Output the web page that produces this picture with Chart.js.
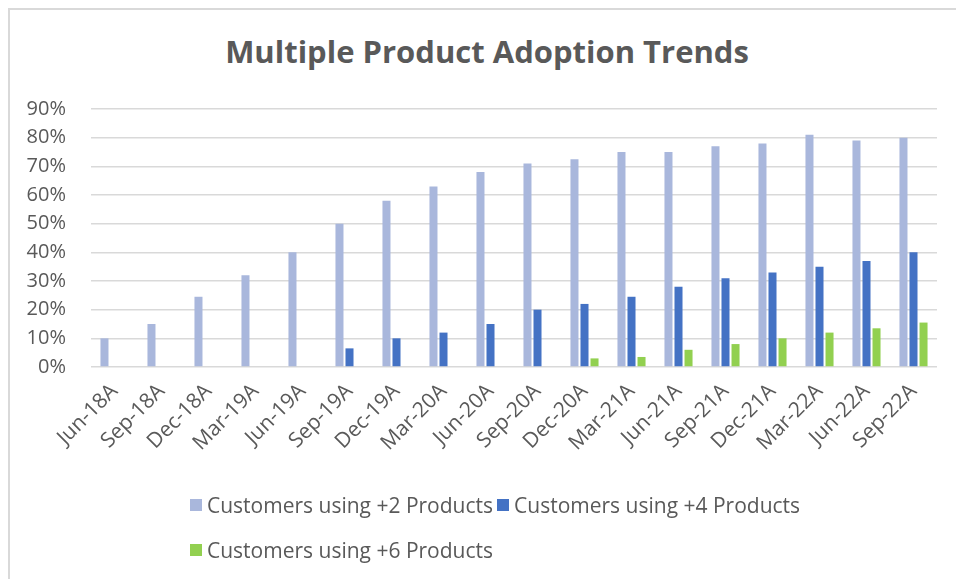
<!DOCTYPE html>
<html>
<head>
<meta charset="utf-8">
<script src="https://cdn.jsdelivr.net/npm/chart.js@4.4.1/dist/chart.umd.min.js"></script>
<style>
    html, body { margin: 0; padding: 0; background: #fff; overflow: hidden; }
    body { width: 956px; height: 579px; position: relative; font-family: "Open Sans", sans-serif; }
    #frame {
        position: absolute; left: 8px; top: 8px;
        width: 1200px; height: 800px;
        border: 2px solid #d9d9d9;
    }
    #chartTitle {
        position: absolute; left: 0; top: 30px; width: 974px;
        text-align: center; font-size: 31px; font-weight: 700;
        color: #595959; white-space: nowrap;
    }
    canvas { position: absolute; left: 0; top: 0; }
    #legend {
        position: absolute; left: 190px; top: 482px;
        font-size: 21px; color: #595959;
    }
    .legend-row { display: flex; height: 45px; align-items: center; }
    .legend-item { display: flex; align-items: center; margin-right: 4px; white-space: nowrap; }
    .legend-box { width: 12px; height: 12px; margin-right: 5px; }
</style>
</head>
<body>
<div id="frame"></div>
<div id="chartTitle">Multiple Product Adoption Trends</div>
<canvas id="adoptionChart" width="956" height="579"></canvas>
<div id="legend"></div>

<script>
const quarters = ["Jun-18A", "Sep-18A", "Dec-18A", "Mar-19A", "Jun-19A", "Sep-19A",
    "Dec-19A", "Mar-20A", "Jun-20A", "Sep-20A", "Dec-20A", "Mar-21A",
    "Jun-21A", "Sep-21A", "Dec-21A", "Mar-22A", "Jun-22A", "Sep-22A"];

// share of customers, in percent
const plus2 = [10, 15, 24.5, 32, 40, 50, 58, 63, 68, 71, 72.5, 75, 75, 77, 78, 81, 79, 80];
const plus4 = [null, null, null, null, null, 6.5, 10, 12, 15, 20, 22, 24.5, 28, 31, 33, 35, 37, 40];
const plus6 = [null, null, null, null, null, null, null, null, null, null, 3, 3.5, 6, 8, 10, 12, 13.5, 15.5];

const seriesNames = ["Customers using +2 Products", "Customers using +4 Products", "Customers using +6 Products"];
const seriesColors = ["#a9b7dc", "#4472c4", "#92d050"];

const yTicks = [0, 10, 20, 30, 40, 50, 60, 70, 80, 90];

const textColor = "#595959";
const gridColor = "#d9d9d9";

const datasets = [plus2, plus4, plus6].map((values, i) => ({
    label: seriesNames[i],
    data: values,
    backgroundColor: seriesColors[i],
    barPercentage: 0.8,
    categoryPercentage: 0.64
}));

new Chart(document.getElementById("adoptionChart"), {
    type: "bar",
    data: { labels: quarters, datasets },
    options: {
        responsive: false,
        animation: false,
        layout: { padding: { top: 109, left: 10, right: 19, bottom: 102 } },
        plugins: {
            legend: { display: false },
            title: { display: false },
            tooltip: { enabled: false }
        },
        scales: {
            x: {
                grid: { display: false },
                border: { display: false },
                ticks: {
                    color: textColor,
                    font: { family: "Open Sans", size: 21 },
                    minRotation: 45,
                    maxRotation: 45,
                    autoSkip: false,
                    padding: 4
                },
                afterFit: (scale) => { scale.height = 110; }
            },
            y: {
                min: 0,
                max: 90,
                afterBuildTicks: (scale) => { scale.ticks = yTicks.map(v => ({ value: v })); },
                grid: { color: gridColor, lineWidth: 1.5, drawTicks: false },
                border: { display: false },
                ticks: {
                    color: textColor,
                    font: { family: "Open Sans", size: 20 },
                    padding: 25,
                    callback: (v) => v + "%"
                },
                afterFit: (scale) => { scale.width = 81; }
            }
        }
    }
});

// legend below the plot: two entries on the first row, one on the second
let legend = document.getElementById("legend");
[[0, 1], [2]].forEach(row => {
    let rowDiv = document.createElement("div");
    rowDiv.className = "legend-row";
    row.forEach(i => {
        let item = document.createElement("div");
        item.className = "legend-item";
        let box = document.createElement("span");
        box.className = "legend-box";
        box.style.background = seriesColors[i];
        let label = document.createElement("span");
        label.textContent = seriesNames[i];
        item.appendChild(box);
        item.appendChild(label);
        rowDiv.appendChild(item);
    });
    legend.appendChild(rowDiv);
});
</script>
</body>
</html>
